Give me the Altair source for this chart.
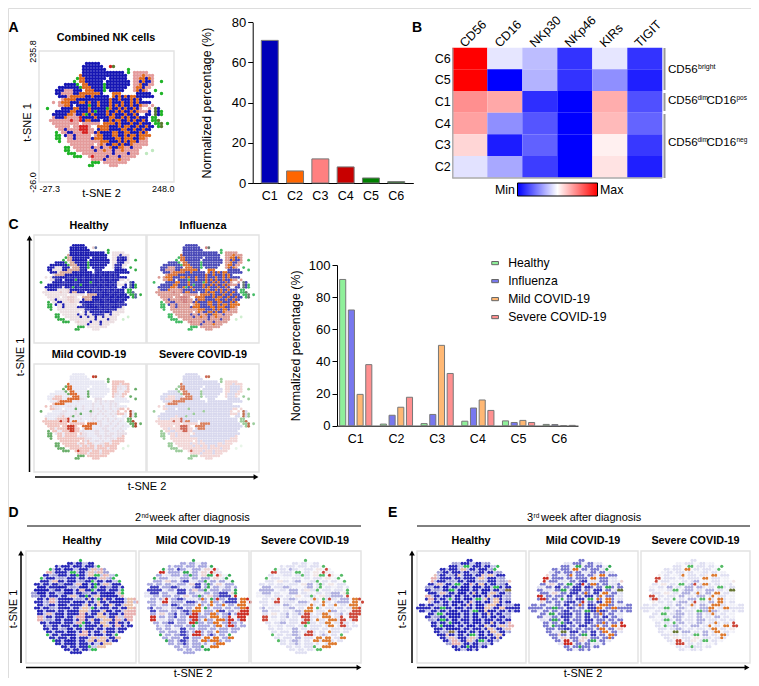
import altair as alt
import pandas as pd

FONT = "Liberation Sans"
W, H = 743, 670

clusters = ["C1", "C2", "C3", "C4", "C5", "C6"]
combined_pct = [71, 6, 12, 8, 2.5, 0.7]
combined_col = ["#0000b8", "#ff6600", "#ff8080", "#c80000", "#008000", "#1f6f1f"]

groups = ["Healthy", "Influenza", "Mild COVID-19", "Severe COVID-19"]
group_col = ["#8ff09a", "#7878ee", "#ffb874", "#ff9090"]
group_pct = {
    "Healthy": [91, 1, 1.3, 2.8, 3, 0.8],
    "Influenza": [72, 6.5, 7, 11, 2, 0.7],
    "Mild COVID-19": [19.5, 11.5, 50, 16, 3.3, 0],
    "Severe COVID-19": [38, 17.7, 32.5, 9.5, 2, 0.2],
}

markers = ["CD56", "CD16", "NKp30", "NKp46", "KIRs", "TIGIT"]
heat_rows = ["C6", "C5", "C1", "C4", "C3", "C2"]
heat_vals = [
    [1.0, 0.45, 0.37, 0.10, 0.45, 0.10],
    [1.0, 0.00, 0.35, 0.10, 0.28, 0.06],
    [0.72, 0.67, 0.09, 0.00, 0.66, 0.157],
    [0.685, 0.28, 0.167, 0.00, 0.635, 0.196],
    [0.58, 0.055, 0.19, 0.00, 0.53, 0.11],
    [0.443, 0.33, 0.12, 0.00, 0.555, 0.06],
]

# t-SNE clouds, one character per cell
# B blue, O orange, o scattered orange, P pink, R red, G green, g faint green, D olive
cloud_all = [
    "", "", "", "",
    "               BBBBB",
    "              BBBBBBB  RD",
    "              BBBBBBBB       G",
    "              BBBBBBBBBBBBBB G PPPPP",
    "             OBBBBBBBBBBBBBBB  PPPoPPP",
    "            GOOBBBBBBB BBBBBB  PPooBoP",
    "           G OOBBBBBB BBBBBBBB PPBoBBP  G",
    "        BBBBG OOBBBBBGBBBBBBBB PPoBBPP",
    "      BBBBBBBGOOOBBBBGBBBBBBB  PooBPP",
    "     BBBPPPBBB OOOBBBG BBBBB   PoBoP  G",
    "     BBPPPPBBOOOOOooB   ooo     BBBBB   G",
    "      BBBPOOOOOBBoBBBBB oBoBoBooBBBBBB",
    "       POOOOBBBBBBBBBBBoBBoBBBoBoB",
    "    P PoooBBBooBoBBoBBBoBBBoBBoBoBBBB",
    "      PPooB BBBBGBBoBBBoBoBoBBoBBoPP P",
    "  G    BBBBooBBBoBBBBBGoBBoBoBBoBP  P DB",
    "     BBBBBooBBBBoBGBBBoBBoBoBBoBoPPPB DBG",
    "    BBBBBooPBBoGBoBBBBoBoBBBoBBoB  BB DBG",
    "    PBBBoPPPPRBBBBoBBBBooBBoBoBBoBBB GG",
    "   PPPPPPPRPPRBOOBBB BBoBooBBoBoBBoB GGD",
    "    PPPPPPPPP PPPPPP OOOOBoBBBoBBoBBB GGD G",
    "     PPPPP PPRRRP  OOOOBBBoBooBBoBBoBB GD",
    "      PPBPPPPRRRPP BOOOBBBBooBBoBBoBB",
    "     G PPBBPPPRRPPBoBBBBooBBooBBBoBo",
    "     GG BPPBPPPPP PooBBBooBBoBooBoooo",
    "     GG  PPBPPPPPBoooBBBBooBoooBBooP",
    "      G  PPPPPPPPPPPoooBBBoBoBooBPPP",
    "          PPPPPPPP PoPBBooBoBBoPPPPP",
    "        GG PPPPPPBPPBPPoBBooPPBPPP",
    "        GG  PPPPPPBPPoPPBPPoPPPPP    g",
    "         GGG  PPPPPPPPPPBPPPPBPPP  g",
    "           GGG  PRPPPPBPPPBPPPPP",
    "                 PPPPBPPPPoPPP",
    "                 GGG PPPPPPPP",
    "                GG     PPP",
]

cloud_week2 = [
    "", "", "",
    "                  G",
    "              bb bb  bb",
    "          b bbb bbb bbb G",
    "        G bb Bbb  bbb PP RL",
    "       RR bbbb GG bb PP RPLL",
    "      bb LLbbb bbGbb PPGG RP  G",
    "     G bbb LL bbb bb bbb PP LG",
    "     bbb PPbb bBB LLbbG bb bb  G",
    "   bb bb bbLLbbb PPBB bGb PP bbb",
    "    BBB bbbBBb LL bBB bG bbLLbb b",
    "   BBBBB Lbb BBB bPPbbG bbb bbb G",
    "  LLBBB bb LLBBB bbLL bb bbBBB PG",
    "  LLLbb bbb bb PP bbGb PPbbBBBB R",
    "    bb bPR bbBBb LL bOb GbRbb BBB OOR",
    "   bbb LRR bbbb BBBb bb Obb bBBBB OO R",
    "    bb Lbb BBb bbbb Ob bO bbO bb OOO",
    "   bB bbLL bbBB bb OO Gb bbb bb bbOOR",
    "    BB bbb bb bBBbOOO bbb OBB bb PRRR",
    "    bb PP bbB bbBbRRb bbOOb bbB bRRRR",
    "    RR bb bbB bb RRRbbb OOO bbR  RRR",
    "    RR LL bb bbb bRRb Obb OOObRR bRR",
    "     bb bbBB bbb RRGbb bbOO bbRbb b",
    "      bLLbb bbb bbG bbbb bOO bRRb bb",
    "      bb bb LLBB bb bbb bb bbb bbb",
    "       bb bbb BBb bRRb bb Obbb bb",
    "       G bb bbBBb RRRb bBb bb G",
    "        bb bbb BB bbb OO OO bbOO",
    "         Gbb bBBb bb OObOOOb bb",
    "          bb bbBb bbb b  bOOO",
    "            bb bb bbbG  OOO",
    "             bb bb bb GG",
    "               bbbb",
]

cloud_week3 = [
    "", "", "",
    "                 bb",
    "            LL bbb  bb LL",
    "           bbb  GG bbb bb  G",
    "        bb bbb OO bb bbb LG",
    "       LLbb bbb bb LLbb bb LL",
    "      P bb LLbO bbb bbP OO bbb",
    "     RR bbbb bb bbbb OO bbb LL",
    "     R bbb LL bb bBB LL bbb LL P",
    "    bb PP bb GG bBR bOOb bb LLb",
    "   LL bb BB bb BBB BBb bb GGb bb",
    "   bb LL bbGG bBBB bb BBB bb LDD",
    "    bbb PP bb BBB bOb BB OO bb L",
    "   RR bb bbb BB bb BBB bO bbb LL",
    "   bRRb bb G bb BBB GG Ob OOb LL",
    "    P bb bb bBBB bR bb BB OOb bb",
    " bb bb LLbb BB bbOb BBb OOObb LL bb",
    "bbbbb bbGGbb BBb bb BBBOO bbOObbbbb",
    " bb  bb bb bBB bbb GGBBOBBb bb b bb",
    "    bb GG bbBBB bb BB bbOb bb LL",
    "   bb LLbb BBBb bb BB bb BB bb L",
    "    LL bGGb BB bbb BBB bbb bb bb",
    "     bb bb GbBB bb BBb bbOb bb R",
    "     bb GbbBB bb BBB bbO bb OO RR",
    "      bbb bbBBb bb bbb bOO bb PP",
    "      bb LLDD BBB bb BB bOO bb L",
    "       bbbPbb bb bGG BB bb OOb",
    "        bb PP bbb PP bbb bbOb",
    "         bb RR bbPP bGG bb L",
    "          LLRRR bb bb LL b",
    "            bb bbGbbb bb",
    "             bb  bb b",
]

map_all = {"B": "#1616b4", "O": "#de661e", "o": "#e06a1c", "P": "#e49c9c", "R": "#d62020",
           "G": "#20b428", "g": "#bfe8bf", "D": "#5a7a30"}
map_healthy = {"B": "#1c1cb0", "O": "#d8a898", "o": "#3232b4", "P": "#ecdfe2", "R": "#e8cccc",
               "G": "#35ad48", "g": "#cfeecf", "D": "#5a6aa0"}
map_influenza = {"B": "#4a4ab8", "O": "#d87038", "o": "#e07020", "P": "#dc9c96", "R": "#d08080",
                 "G": "#44bb66", "g": "#cfeecf", "D": "#6a7a70"}
map_mild = {"B": "#e8e8f4", "O": "#dc6a30", "o": "#e6dce6", "P": "#f0c4c0", "R": "#cc3a28",
            "G": "#6aae6a", "g": "#dff2df", "D": "#b04a30"}
map_severe = {"B": "#d8d8ee", "O": "#d88060", "o": "#d8d8ee", "P": "#f2d6d6", "R": "#d06858",
              "G": "#9ccc9c", "g": "#e8f5e8", "D": "#c07050"}
wk_healthy = {"B": "#1c1cb4", "b": "#2a2ab8", "L": "#a0a0d8", "P": "#e8c0b8", "O": "#eac0a8",
              "R": "#e8b0b0", "G": "#33bb55", "D": "#887744", "_": "#c4c4ea"}
wk2_mild = {"B": "#4040be", "b": "#a8a8e0", "L": "#e4e4f4", "P": "#ecd4d4", "O": "#e07020",
            "R": "#cc2a20", "G": "#33aa55", "D": "#667733", "_": "#f0f0f9"}
wk3_mild = {"B": "#3838ba", "b": "#7a7ad0", "L": "#e0e0f2", "P": "#ecd0d0", "O": "#e07020",
            "R": "#cc2a20", "G": "#33aa55", "D": "#667733", "_": "#eeeef8"}
wk_severe = {"B": "#b0b0e0", "b": "#e0e0f2", "L": "#f0f0f8", "P": "#f2e6e6", "O": "#dd7a30",
             "R": "#cc4438", "G": "#55bb66", "D": "#667733", "_": "#f7f7fc"}


def px(v):
    return v - 8


def text(s, x, y, size=11, bold=False, angle=0, align="center", color="black"):
    return alt.Chart(alt.Data(values=[{"k": 1}])).mark_text(
        text=s, font=FONT, fontSize=size, fontWeight="bold" if bold else "normal",
        angle=angle, align=align, baseline="middle", color=color,
    ).encode(x=alt.value(px(x)), y=alt.value(px(y)))


def rule(x1, y1, x2, y2, color="black", width=1.0):
    return alt.Chart(alt.Data(values=[{"k": 1}])).mark_rule(color=color, strokeWidth=width).encode(
        x=alt.value(px(x1)), x2=alt.value(px(x2)), y=alt.value(px(y1)), y2=alt.value(px(y2)))


def head(x, y, shape):
    return alt.Chart(alt.Data(values=[{"k": 1}])).mark_point(
        shape=shape, filled=True, color="black", size=32, opacity=1
    ).encode(x=alt.value(px(x)), y=alt.value(px(y)))


def cells(grid, cmap, tx, ty):
    rows = []
    for r, line in enumerate(grid):
        body = line.strip()
        start = len(line) - len(line.lstrip())
        for c, ch in enumerate(body):
            if ch == " ":
                if "_" in cmap:
                    rows.append({"x": tx(start + c), "y": ty(r), "c": cmap["_"]})
            else:
                rows.append({"x": tx(start + c), "y": ty(r), "c": cmap[ch]})
    return pd.DataFrame(rows)


def panel(grid, cmap, box, dom, tx, ty, size, xaxis=None, yaxis=None):
    left, right, top, bottom = box
    sx = alt.Scale(domain=[dom[0], dom[1]], range=[px(left), px(right)], nice=False, zero=False)
    sy = alt.Scale(domain=[dom[2], dom[3]], range=[px(bottom), px(top)], nice=False, zero=False)
    frame = alt.Chart(alt.Data(values=[{"a": dom[0], "b": dom[1], "c": dom[2], "d": dom[3]}])).mark_rect(
        fillOpacity=0, stroke="#e2e2e2", strokeWidth=1.4
    ).encode(
        x=alt.X("a:Q", scale=sx, axis=xaxis), x2="b:Q",
        y=alt.Y("c:Q", scale=sy, axis=yaxis), y2="d:Q",
    )
    pts = alt.Chart(cells(grid, cmap, tx, ty)).mark_circle(size=size, opacity=1, stroke=None).encode(
        x=alt.X("x:Q", scale=sx, axis=None),
        y=alt.Y("y:Q", scale=sy, axis=None),
        color=alt.Color("c:N", scale=None),
    )
    return [frame, pts]


layers = []

# ---------- panel A: t-SNE
dom_all = [-27.3, 248.0, -26.0, 235.8]
tx_all = lambda c: -27.3 + (2.5 + 3 * c) / 135 * 275.3
ty_all = lambda r: 235.8 - (0.5 + 3 * r) / 131 * 261.8
ax_a = alt.Axis(values=[-27.3, 248.0], ticks=False, domain=False, grid=False, labelFlush=True,
                labelExpr="replace(format(datum.value,'.1f'),'\u2212','-')",
                labelFontSize=9, labelPadding=2, title="t-SNE 2", titleFontSize=11, titleFontWeight="normal",
                titleX=px(101), titleY=11, titleBaseline="middle", offset=-(H - px(182)), orient="bottom")
ay_a = alt.Axis(values=[-26.0, 235.8], ticks=False, domain=False, grid=False, labelFlush=True,
                labelExpr="replace(format(datum.value,'.1f'),'\u2212','-')",
                labelAngle=270, labelFontSize=9, labelPadding=2, title="t-SNE 1", titleFontSize=11,
                titleFontWeight="normal", titleX=-12, titleY=px(122), titleBaseline="middle",
                offset=-px(39), orient="left")
layers += panel(cloud_all, map_all, (39, 174, 51, 182), dom_all, tx_all, ty_all, 12, ax_a, ay_a)

# ---------- panel A: bars
df_a = pd.DataFrame({"cluster": clusters, "pct": combined_pct, "col": combined_col})
layers.append(
    alt.Chart(df_a).mark_bar(stroke="#777777", strokeWidth=1).encode(
        x=alt.X("cluster:N", sort=clusters,
                scale=alt.Scale(range=[px(252.7), px(413.3)], paddingInner=0.33, paddingOuter=0.34),
                axis=alt.Axis(title=None, labelAngle=0, labelFontSize=12.5, tickSize=0, labelPadding=6,
                              domainColor="black", grid=False, offset=-(H - px(183)), orient="bottom")),
        y=alt.Y("pct:Q", scale=alt.Scale(domain=[0, 80], range=[px(183), px(22.3)], nice=False),
                axis=alt.Axis(values=[0, 20, 40, 60, 80], title="Normalized percentage (%)", titleFontSize=12.4,
                              titleFontWeight="normal", labelFontSize=13, tickSize=5, tickColor="black",
                              domainColor="black", grid=False, titlePadding=18, labelPadding=2,
                              offset=-px(252.7), orient="left")),
        color=alt.Color("col:N", scale=None),
    )
)

# ---------- panel B: heat map
df_h = pd.DataFrame([
    {"row": r, "marker": m, "v": heat_vals[i][j]}
    for i, r in enumerate(heat_rows) for j, m in enumerate(markers)
])
layers.append(
    alt.Chart(df_h).mark_rect().encode(
        x=alt.X("marker:N", sort=markers,
                scale=alt.Scale(range=[px(452.3), px(662.3)], paddingInner=0, paddingOuter=0),
                axis=alt.Axis(title=None, orient="top", labelAngle=315, labelAlign="left", labelBaseline="middle",
                              labelFontSize=12.5, ticks=False, domain=False, grid=False, labelPadding=3,
                              labelOffset=-8, offset=-px(47.7))),
        y=alt.Y("row:N", sort=heat_rows,
                scale=alt.Scale(range=[px(47.7), px(177.7)], paddingInner=0, paddingOuter=0),
                axis=alt.Axis(title=None, orient="left", labelFontSize=12.5, ticks=False, domainColor="#aaaaaa",
                              domainWidth=1.4, grid=False, labelPadding=2, offset=-px(452.3))),
        color=alt.Color("v:Q", scale=alt.Scale(domain=[0, 0.5, 1], range=["#0000ff", "#ffffff", "#ff0000"],
                                               interpolate="rgb"),
                        legend=alt.Legend(orient="none", legendX=px(517.5), legendY=px(183), direction="horizontal",
                                          title=None, gradientLength=80, gradientThickness=13, labelOpacity=0,
                                          tickCount=2, gradientStrokeColor="black", gradientStrokeWidth=1)),
    )
)
layers.append(rule(452.3, 178, 662.3, 178, "#aaaaaa", 1.4))
for y1, y2 in [(48, 90), (93, 111), (114, 178)]:
    layers.append(rule(664.5, y1, 664.5, y2, "#999999", 2))
layers += [text("Min", 515, 190, 12.4, align="right"), text("Max", 600, 190, 12.4, align="left")]
layers += [
    text("CD56", 668, 70, 11.6, align="left"), text("bright", 698, 67, 7, align="left"),
    text("CD56", 668, 101, 11.6, align="left"), text("dim", 697.5, 98, 6.5, align="left"),
    text("CD16", 706.5, 101, 11.6, align="left"), text("pos", 736.5, 98, 6.5, align="left"),
    text("CD56", 668, 143, 11.6, align="left"), text("dim", 697.5, 140, 6.5, align="left"),
    text("CD16", 706.5, 143, 11.6, align="left"), text("neg", 736.5, 140, 6.5, align="left"),
]

# ---------- panel C: t-SNE
for grid_map, box in [
    (map_healthy, (34, 146, 235, 343)),
    (map_influenza, (147, 259, 235, 343)),
    (map_mild, (34, 146, 364, 472)),
    (map_severe, (147, 259, 364, 472)),
]:
    layers += panel(cloud_all, grid_map, box, dom_all, tx_all, ty_all, 8)
layers += [
    text("Healthy", 89, 226, 10.8, True), text("Influenza", 203, 226, 10.8, True),
    text("Mild COVID-19", 89, 355, 10.8, True), text("Severe COVID-19", 203, 355, 10.8, True),
    rule(29.5, 472, 29.5, 240, width=1.5), head(29.5, 238, "triangle-up"),
    rule(35, 477, 254, 477, width=1.5), head(256, 477, "triangle-right"),
    text("t-SNE 1", 21, 357, 11, angle=270), text("t-SNE 2", 147, 487, 11),
]

# ---------- panel C: grouped bars
df_c = pd.DataFrame([
    {"cluster": c, "group": g, "pct": group_pct[g][i]}
    for g in groups for i, c in enumerate(clusters)
])
layers.append(
    alt.Chart(df_c).mark_bar(stroke="#777777", strokeWidth=1).encode(
        x=alt.X("cluster:N", sort=clusters,
                scale=alt.Scale(range=[px(337), px(578)], paddingInner=0.209, paddingOuter=0.065),
                axis=alt.Axis(title=None, labelAngle=0, labelFontSize=12.5, tickSize=0, labelPadding=7,
                              domainColor="black", grid=False, offset=-(H - px(425.7)), orient="bottom")),
        xOffset=alt.XOffset("group:N", sort=groups, scale=alt.Scale(paddingInner=0.3, paddingOuter=0)),
        y=alt.Y("pct:Q", scale=alt.Scale(domain=[0, 100], range=[px(425.7), px(265)], nice=False),
                axis=alt.Axis(values=[0, 20, 40, 60, 80, 100], title="Normalized percentage (%)", titleFontSize=12.4,
                              titleFontWeight="normal", labelFontSize=13, tickSize=5, tickColor="black",
                              domainColor="black", grid=False, titlePadding=6, labelPadding=2,
                              offset=-px(337), orient="left")),
        color=alt.Color("group:N", sort=groups, scale=alt.Scale(domain=groups, range=group_col),
                        legend=alt.Legend(orient="none", legendX=px(489), legendY=px(257), title=None,
                                          symbolType="M-1,-0.47H1V0.47H-1Z", symbolSize=45, symbolStrokeColor="#666666",
                                          symbolStrokeWidth=1, labelFontSize=12.2, rowPadding=5, labelOffset=7)),
    )
)

# ---------- panels D and E
tx_w = lambda c: c + 0.5
ty_w = lambda r: r + 0.5
dom_w = [0.33, 37, 38, 0.33]
for box, grid_map in [((26, 136, 551, 663), wk_healthy), ((139, 249, 551, 663), wk2_mild), ((251, 361, 551, 663), wk_severe)]:
    layers += panel(cloud_week2, grid_map, box, dom_w, tx_w, ty_w, 10)
for box, grid_map in [((417, 526, 551, 663), wk_healthy), ((529, 638, 551, 663), wk3_mild), ((641, 750, 551, 663), wk_severe)]:
    layers += panel(cloud_week3, grid_map, box, dom_w, tx_w, ty_w, 10)

layers += [
    text("2", 135, 518, 11, align="left"), text("nd", 141.5, 515.5, 6.5, align="left"),
    text("week after diagnosis", 149.5, 518, 11, align="left"),
    rule(27, 526, 361, 526),
    text("Healthy", 82, 541, 10.8, True), text("Mild COVID-19", 193, 541, 10.8, True),
    text("Severe COVID-19", 305, 541, 10.8, True),
    rule(21, 663, 21, 555, width=1.5), head(21, 553, "triangle-up"),
    rule(26, 667.5, 357, 667.5, width=1.5), head(359, 667.5, "triangle-right"),
    text("t-SNE 1", 14, 609, 11, angle=270), text("t-SNE 2", 193, 673.5, 11),
    text("3", 527, 518, 11, align="left"), text("rd", 533.5, 515.5, 6.5, align="left"),
    text("week after diagnosis", 541, 518, 11, align="left"),
    rule(417, 526, 750, 526),
    text("Healthy", 471, 541, 10.8, True), text("Mild COVID-19", 583, 541, 10.8, True),
    text("Severe COVID-19", 695.5, 541, 10.8, True),
    rule(412, 663, 412, 555, width=1.5), head(412, 553, "triangle-up"),
    rule(417, 667.5, 745, 667.5, width=1.5), head(747, 667.5, "triangle-right"),
    text("t-SNE 1", 403, 609, 11, angle=270), text("t-SNE 2", 583, 673.5, 11),
]

# ---------- panel letters and titles
layers += [
    text("Combined NK cells", 106, 38, 10.8, True),
    text("A", 8.5, 28, 14, True, align="left"), text("B", 412, 28, 14, True, align="left"),
    text("C", 8.5, 225, 14, True, align="left"), text("D", 8.5, 513, 14, True, align="left"),
    text("E", 388, 513, 14, True, align="left"),
]

chart = (
    alt.layer(*layers)
    .resolve_scale(x="independent", y="independent", color="independent")
    .properties(width=W, height=H, padding=0, autosize=alt.AutoSizeParams(type="none"))
    .configure_view(stroke=None)
    .configure(font=FONT)
    .configure_axis(labelFont=FONT, titleFont=FONT, labelColor="black", titleColor="black")
    .configure_legend(labelFont=FONT, labelColor="black")
)
chart.save("out.html", embed_options={"renderer": "svg", "actions": False})
